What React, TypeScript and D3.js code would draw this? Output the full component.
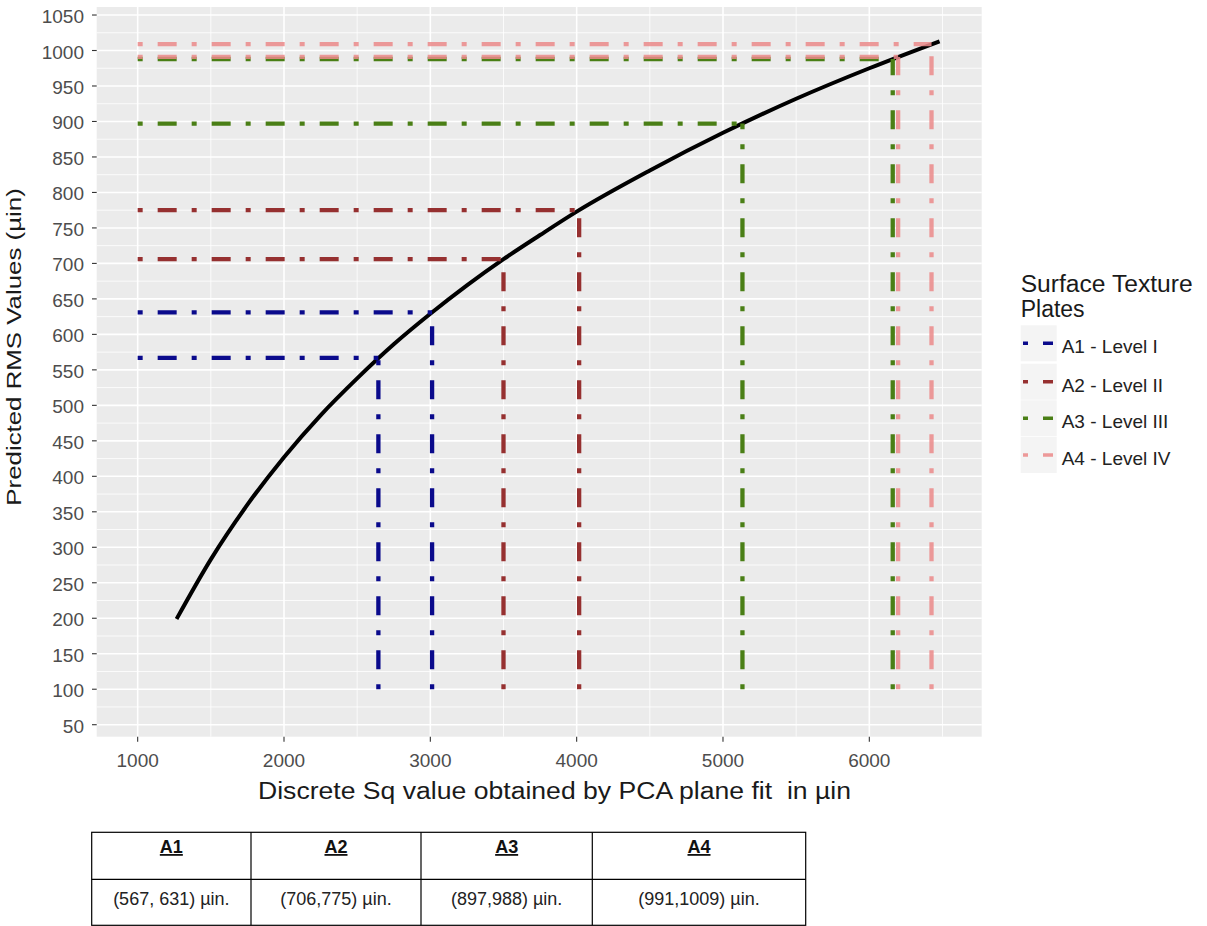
import React from "react";
import * as d3 from "d3";

// ---- data ----
const curveSq = [1266, 1500, 1750, 2000, 2250, 2500, 2750, 3000, 3250, 3500, 3750, 4000, 4500, 5000, 5500, 6000, 6480];
const curveRMS = [199, 283, 360, 427, 486, 538, 586, 629, 669, 706, 740, 773, 831, 884, 932, 975, 1013];

const plates = ["A1 - Level I", "A2 - Level II", "A3 - Level III", "A4 - Level IV"];
const plateColors = ["#0A0A8C", "#963030", "#4A7F16", "#EC8A8A"];
const lowRMS = [567, 706, 897, 991];
const highRMS = [631, 775, 988, 1009];
const lowSq = [2645, 3500, 5133, 6197];
const highSq = [3012, 4017, 6160, 6425];
const segStartSq = 1000;
const segBottomRMS = 100;

const yTicks = [50, 100, 150, 200, 250, 300, 350, 400, 450, 500, 550, 600, 650, 700, 750, 800, 850, 900, 950, 1000, 1050];
const xTicks = [1000, 2000, 3000, 4000, 5000, 6000];
const xMinor = [1500, 2500, 3500, 4500, 5500, 6500];

const tableHeaders = ["A1", "A2", "A3", "A4"];
const tableValues = ["(567, 631) µin.", "(706,775) µin.", "(897,988) µin.", "(991,1009) µin."];

const FONT = "'Liberation Sans', Arial, sans-serif";
const DASH = "5,15,19,15";

export default function App() {
  const P = { left: 96.7, right: 981.7, top: 7, bottom: 736.7 };
  const x = d3.scaleLinear().domain([720, 6768]).range([P.left, P.right]);
  const y = d3.scaleLinear().domain([33.1, 1061.3]).range([P.bottom, P.top]);
  const yMinor = yTicks.map((t) => t + 25).filter((t) => y(t) > P.top);

  const line = d3
    .line<number>()
    .x((_, i) => x(curveSq[i]))
    .y((d) => y(d))
    .curve(d3.curveMonotoneX);

  const tableCols = [91.7, 251, 421, 592.3, 805.7];

  return (
    <svg
      width={1207}
      height={926}
      style={{ position: "absolute", left: 0, top: 0, background: "#fff" }}
      fontFamily={FONT}
    >
      <rect x={0} y={0} width={1207} height={926} fill="#fff" />
      {/* panel */}
      <rect x={P.left} y={P.top} width={P.right - P.left} height={P.bottom - P.top} fill="#EBEBEB" />
      {yMinor.map((t) => (
        <line key={"ym" + t} x1={P.left} x2={P.right} y1={y(t)} y2={y(t)} stroke="#fff" strokeWidth={0.8} />
      ))}
      {xMinor.map((t) => (
        <line key={"xm" + t} y1={P.top} y2={P.bottom} x1={x(t)} x2={x(t)} stroke="#fff" strokeWidth={0.8} />
      ))}
      {yTicks.map((t) => (
        <line key={"yM" + t} x1={P.left} x2={P.right} y1={y(t)} y2={y(t)} stroke="#fff" strokeWidth={1.6} />
      ))}
      {xTicks.map((t) => (
        <line key={"xM" + t} y1={P.top} y2={P.bottom} x1={x(t)} x2={x(t)} stroke="#fff" strokeWidth={1.6} />
      ))}

      {/* curve */}
      <path d={line(curveRMS) || ""} fill="none" stroke="#000" strokeWidth={4} strokeLinejoin="round" />

      {/* segments */}
      {plates.map((p, i) => {
        const c = plateColors[i];
        const segs = [
          [segStartSq, lowRMS[i], lowSq[i], lowRMS[i]],
          [segStartSq, highRMS[i], highSq[i], highRMS[i]],
          [lowSq[i], segBottomRMS, lowSq[i], lowRMS[i]],
          [highSq[i], segBottomRMS, highSq[i], highRMS[i]],
        ];
        return (
          <g key={p} opacity={i === 3 ? 0.85 : 1}>
            {segs.map((s, j) => (
              <line
                key={j}
                x1={x(s[0])}
                y1={y(s[1])}
                x2={x(s[2])}
                y2={y(s[3])}
                stroke={c}
                strokeWidth={4.3}
                strokeDasharray={DASH}
              />
            ))}
          </g>
        );
      })}

      {/* y axis */}
      {yTicks.map((t) => (
        <g key={"yt" + t}>
          <line x1={92} x2={P.left} y1={y(t)} y2={y(t)} stroke="#333" strokeWidth={1.1} />
          <text x={84} y={y(t) + 8} textAnchor="end" fontSize={19} fill="#4D4D4D">
            {t}
          </text>
        </g>
      ))}
      {/* x axis */}
      {xTicks.map((t) => (
        <g key={"xt" + t}>
          <line x1={x(t)} x2={x(t)} y1={P.bottom} y2={P.bottom + 5} stroke="#333" strokeWidth={1.1} />
          <text x={x(t)} y={766.7} textAnchor="middle" fontSize={19} fill="#4D4D4D">
            {t}
          </text>
        </g>
      ))}

      {/* axis titles */}
      <text
        x={258}
        y={799}
        fontSize={23}
        fill="#1a1a1a"
        textLength={593}
        lengthAdjust="spacingAndGlyphs"
        style={{ whiteSpace: "pre" }}
        xmlSpace="preserve"
      >
        {"Discrete Sq value obtained by PCA plane fit  in µin"}
      </text>
      <text
        transform="translate(21,505.7) rotate(-90)"
        x={0}
        y={0}
        fontSize={21}
        fill="#1a1a1a"
        textLength={317.5}
        lengthAdjust="spacingAndGlyphs"
      >
        Predicted RMS Values (µin)
      </text>

      {/* legend */}
      <text x={1020.7} y={291.7} fontSize={23} fill="#1a1a1a" textLength={172} lengthAdjust="spacingAndGlyphs">
        Surface Texture
      </text>
      <text x={1020.7} y={316.7} fontSize={23} fill="#1a1a1a">
        Plates
      </text>
      {plates.map((p, i) => {
        const base = [353.3, 391.7, 428.3, 465][i];
        const cy = base - 10;
        return (
          <g key={"lg" + p}>
            <rect x={1020.7} y={cy - 18} width={36} height={36} fill="#F4F4F4" />
            <line
              x1={1023}
              x2={1053}
              y1={cy}
              y2={cy}
              stroke={plateColors[i]}
              strokeWidth={3.5}
              strokeDasharray={DASH}
              opacity={i === 3 ? 0.85 : 1}
            />
            <text x={1061.7} y={base} fontSize={19} fill="#222">
              {p}
            </text>
          </g>
        );
      })}

      {/* table */}
      <rect
        x={tableCols[0]}
        y={832.3}
        width={tableCols[4] - tableCols[0]}
        height={925.3 - 832.3}
        fill="none"
        stroke="#000"
        strokeWidth={1.2}
      />
      <line x1={tableCols[0]} x2={tableCols[4]} y1={879.3} y2={879.3} stroke="#000" strokeWidth={1.2} />
      {tableCols.slice(1, 4).map((c) => (
        <line key={"tc" + c} x1={c} x2={c} y1={832.3} y2={925.3} stroke="#000" strokeWidth={1.2} />
      ))}
      {tableHeaders.map((h, i) => {
        const cx = (tableCols[i] + tableCols[i + 1]) / 2;
        return (
          <g key={"th" + h}>
            <text
              x={cx}
              y={853}
              textAnchor="middle"
              fontSize={18}
              fontWeight="bold"
              fill="#111"
              textDecoration="underline"
              style={{ textDecoration: "underline" }}
            >
              {h}
            </text>
            <text x={cx} y={905} textAnchor="middle" fontSize={18} fill="#222">
              {tableValues[i]}
            </text>
          </g>
        );
      })}
    </svg>
  );
}
